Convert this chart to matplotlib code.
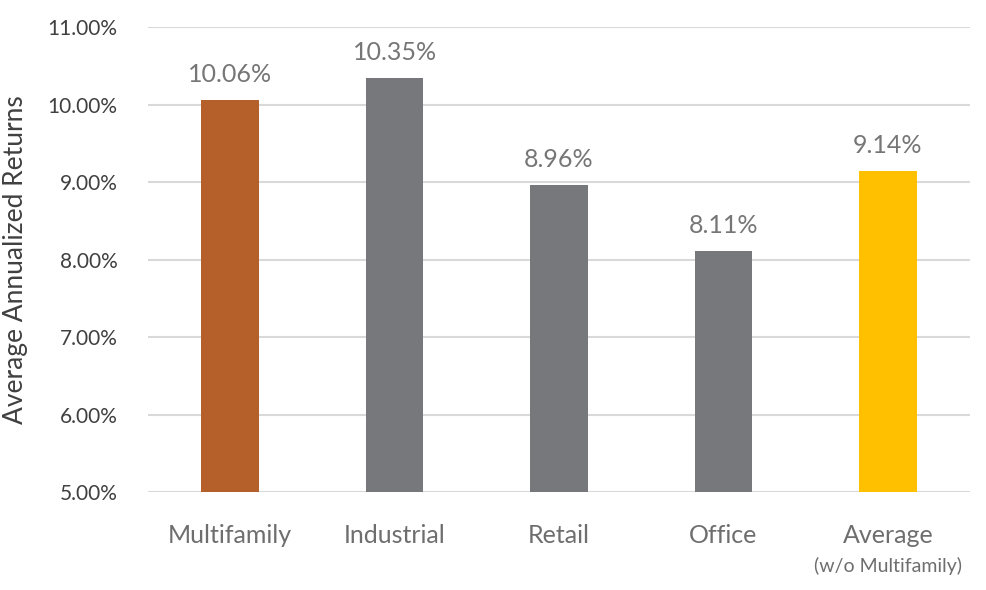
import matplotlib.pyplot as plt

# Chart data
categories = ['Multifamily', 'Industrial', 'Retail', 'Office', 'Average']
returns = [10.06, 10.35, 8.96, 8.11, 9.14]
bar_colors = ['#B5602A', '#77787B', '#77787B', '#77787B', '#FFC000']
yticks = [5, 6, 7, 8, 9, 10, 11]

plt.rcParams['font.family'] = ['Lato', 'DejaVu Sans']

fig = plt.figure(figsize=(9.86, 5.90), dpi=100)
ax = fig.add_axes([0.150, 0.166, 0.834, 0.788])

ax.bar(range(len(categories)), returns, width=0.35, color=bar_colors, zorder=3)
ax.set_ylim(5, 11)
ax.set_xlim(-0.5, len(categories) - 0.5)

ax.set_yticks(yticks)
ax.set_yticklabels([f'{v:.2f}%' for v in yticks], fontsize=15, color='#404040')
ax.yaxis.grid(True, color='#D9D9D9', linewidth=1.5, zorder=0)
ax.set_axisbelow(True)
for s in ax.spines.values():
    s.set_visible(False)
ax.tick_params(axis='y', length=0, pad=22)
ax.tick_params(axis='x', length=0, pad=23)

ax.set_xticks(range(len(categories)))
ax.set_xticklabels(categories, fontsize=18, color='#6E6E6E')
ax.annotate('(w/o Multifamily)', (4, 0), xycoords=('data', 'axes fraction'),
            xytext=(0, -53), textcoords='offset points', ha='center', va='center',
            fontsize=14, color='#6E6E6E')

ax.set_ylabel('Average Annualized Returns', fontsize=19, color='#404040', labelpad=14)

for i, v in enumerate(returns):
    ax.annotate(f'{v:.2f}%', (i, v), xytext=(0, 10), textcoords='offset points',
                ha='center', va='bottom', fontsize=18, color='#767676',
                bbox=dict(facecolor='white', edgecolor='none', pad=2), zorder=4)

fig.savefig('out.png', dpi=100)
